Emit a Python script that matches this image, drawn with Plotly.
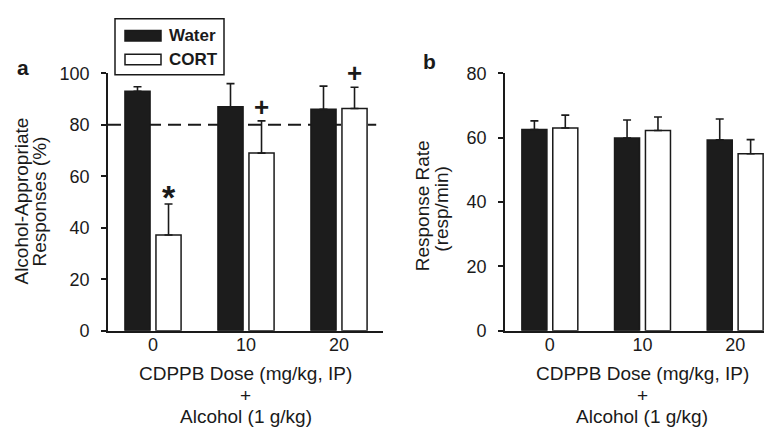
import plotly.graph_objects as go

doses = ["0", "10", "20"]
xpos = [0, 1, 2]

# Panel a: Alcohol-appropriate responses (%)
water_a = [93, 87, 86]
water_a_err = [1.8, 9, 9]
cort_a = [37.2, 69, 86.3]
cort_a_err = [12, 12.5, 8.3]

# Panel b: Response rate (resp/min)
water_b = [62.5, 59.9, 59.3]
water_b_err = [2.7, 5.6, 6.5]
cort_b = [63.0, 62.2, 55.0]
cort_b_err = [4.0, 4.2, 4.4]

sig_a = ["*", "+", "+"]

W, H = 772, 429
def px(x): return x / W
def py(y): return 1 - y / H

FONT = "Liberation Sans, Arial, sans-serif"
INK = "#1a1a1a"
BLACK = "#1c1c1c"

fig = go.Figure()

def add_bars(xaxis, yaxis, wv, we, cv, ce):
    fig.add_trace(go.Bar(x=xpos, y=wv, name="Water", xaxis=xaxis, yaxis=yaxis,
                         marker=dict(color=BLACK, line=dict(color=INK, width=1.5)),
                         error_y=dict(type="data", array=we, arrayminus=[0]*3, symmetric=False,
                                      color=INK, thickness=1.6, width=4),
                         showlegend=False))
    fig.add_trace(go.Bar(x=xpos, y=cv, name="CORT", xaxis=xaxis, yaxis=yaxis,
                         marker=dict(color="white", line=dict(color=INK, width=1.5)),
                         error_y=dict(type="data", array=ce, arrayminus=[0]*3, symmetric=False,
                                      color=INK, thickness=1.6, width=4),
                         showlegend=False))

add_bars("x", "y", water_a, water_a_err, cort_a, cort_a_err)
add_bars("x2", "y2", water_b, water_b_err, cort_b, cort_b_err)

xr = [-0.484, 2.473]
ydom = [py(328), py(58)]
common_x = dict(range=xr, tickmode="array", tickvals=xpos, ticktext=doses,
                showline=True, linecolor=INK, linewidth=1.6, ticks="", zeroline=False,
                showgrid=False, ticklabelstandoff=-3,
                tickfont=dict(size=18, color=INK, family=FONT))
common_y = dict(showline=True, linecolor=INK, linewidth=1.6, ticks="outside", ticklen=5,
                tickwidth=1.5, tickcolor=INK, showgrid=False, zeroline=False,
                ticklabelstandoff=8,
                tickfont=dict(size=18, color=INK, family=FONT), domain=ydom)

fig.update_layout(
    width=W, height=H, margin=dict(l=0, r=0, t=0, b=0),
    paper_bgcolor="white", plot_bgcolor="rgba(0,0,0,0)",
    barmode="group", bargap=0.333, bargroupgap=0.19,
    font=dict(family=FONT, color=INK),
    xaxis=dict(domain=[px(100), px(375)], anchor="y", **common_x),
    yaxis=dict(range=[0, 100], tickvals=[0, 20, 40, 60, 80, 100], anchor="x", **common_y),
    xaxis2=dict(domain=[px(497), px(771)], anchor="y2", **common_x),
    yaxis2=dict(range=[0, 80], tickvals=[0, 20, 40, 60, 80], anchor="x2", **common_y),
)

# Dashed reference line at 80%
fig.add_shape(type="line", xref="x", yref="y", x0=xr[0], x1=2.40, y0=80, y1=80,
              line=dict(color=INK, width=2, dash="13px,7px"), layer="below")

# Significance markers above CORT bars
for i in range(3):
    star = sig_a[i] == "*"
    fig.add_annotation(x=xpos[i] + 0.1667, y=cort_a[i] + cort_a_err[i], xref="x", yref="y",
                       text="<b>%s</b>" % sig_a[i], showarrow=False, yanchor="bottom",
                       yshift=-14 if star else -3,
                       font=dict(size=34 if star else 26, color=INK, family=FONT))

# Legend box
fig.add_shape(type="rect", xref="paper", yref="paper", x0=px(107), x1=px(216), y0=py(59.5), y1=py(0.8),
              line=dict(color=INK, width=1.5), fillcolor="white", layer="above")
fig.add_shape(type="rect", xref="paper", yref="paper", x0=px(117), x1=px(153), y0=py(24), y1=py(13),
              line=dict(color=INK, width=1.5), fillcolor=BLACK, layer="above")
fig.add_shape(type="rect", xref="paper", yref="paper", x0=px(117), x1=px(153), y0=py(49), y1=py(38),
              line=dict(color=INK, width=1.5), fillcolor="white", layer="above")
for txt, yc in [("Water", 18.5), ("CORT", 43.5)]:
    fig.add_annotation(x=px(159), y=py(yc), xref="paper", yref="paper", text="<b>%s</b>" % txt,
                       showarrow=False, xanchor="left", yanchor="middle",
                       font=dict(size=17, color=INK, family=FONT))

# Panel labels
fig.add_annotation(x=px(14.5), y=py(52), xref="paper", yref="paper", text="<b>a</b>", showarrow=False,
                   xanchor="center", yanchor="middle", font=dict(size=21, color=INK, family=FONT))
fig.add_annotation(x=px(421.5), y=py(46), xref="paper", yref="paper", text="<b>b</b>", showarrow=False,
                   xanchor="center", yanchor="middle", font=dict(size=21, color=INK, family=FONT))

# Y-axis titles (one annotation per line to match tight line spacing)
for txt, xc, yc in [("Alcohol-Appropriate", 14, 192.5), ("Responses (%)", 32, 192.5),
                    ("Response Rate", 414, 197.5), ("(resp/min)", 434, 200)]:
    fig.add_annotation(x=px(xc), y=py(yc), xref="paper", yref="paper", text=txt, textangle=-90,
                       showarrow=False, xanchor="center", yanchor="middle",
                       font=dict(size=19, color=INK, family=FONT))

# X-axis titles
for xc in [237.5, 634]:
    for txt, yc in [("CDPPB Dose (mg/kg, IP)", 373), ("+", 396), ("Alcohol (1 g/kg)", 418)]:
        fig.add_annotation(x=px(xc), y=py(yc), xref="paper", yref="paper", text=txt,
                           showarrow=False, xanchor="center", yanchor="middle",
                           font=dict(size=19, color=INK, family=FONT))

fig.write_html("out.html")
